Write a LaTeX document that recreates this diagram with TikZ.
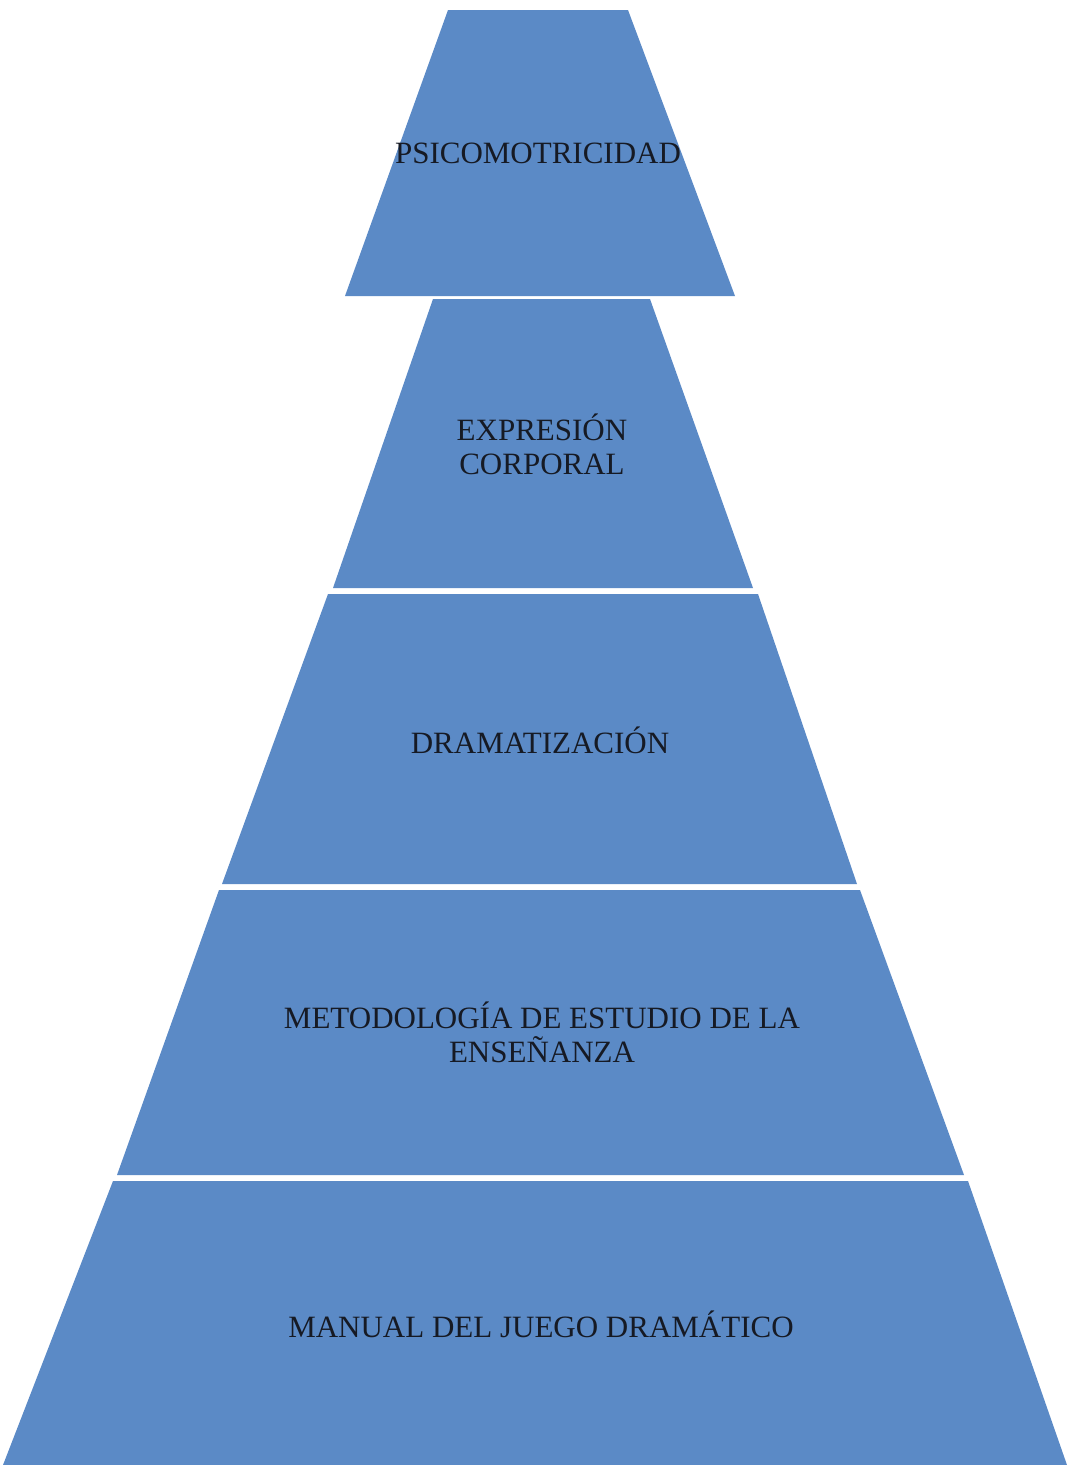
\documentclass[tikz,border=0pt]{standalone}
\usepackage{fontspec}
\setmainfont{Liberation Serif}
\usepackage{xcolor}
\usepackage{tikz}
\definecolor{piramide}{RGB}{91,138,198}
\definecolor{rotulo}{RGB}{22,26,36}

\begin{document}
\begin{tikzpicture}[x=1pt,y=-1pt,font=\fontsize{31}{34}\selectfont]
\tikzstyle{capa}=[fill=piramide,draw=none]
\tikzstyle{rotulo}=[text=rotulo,align=center,inner sep=0pt]
\useasboundingbox (0,0) rectangle (1067,1465);

\fill[capa] (448,10) -- (628,10) -- (735,296) -- (345,296) -- cycle;
\fill[capa] (433,299) -- (650,299) -- (753,588) -- (333,588) -- cycle;
\fill[capa] (328,594) -- (758,594) -- (857,884) -- (222,884) -- cycle;
\fill[capa] (219,890) -- (860,890) -- (964,1175) -- (117,1175) -- cycle;
\fill[capa] (113,1181) -- (968,1181) -- (1067,1465) -- (3,1465) -- cycle;

\node[rotulo] (psico) at (538,153) {PSICOMOTRICIDAD};
\node[rotulo] (expre) at (542,444) {EXPRESIÓN\\CORPORAL};
\node[rotulo] (drama) at (540,740) {DRAMATIZACIÓN};
\node[rotulo] (metod) at (542,1032) {METODOLOGÍA DE ESTUDIO DE LA\\ENSEÑANZA};
\node[rotulo] (manual) at (541,1324) {MANUAL DEL JUEGO DRAMÁTICO};
\end{tikzpicture}
\end{document}
